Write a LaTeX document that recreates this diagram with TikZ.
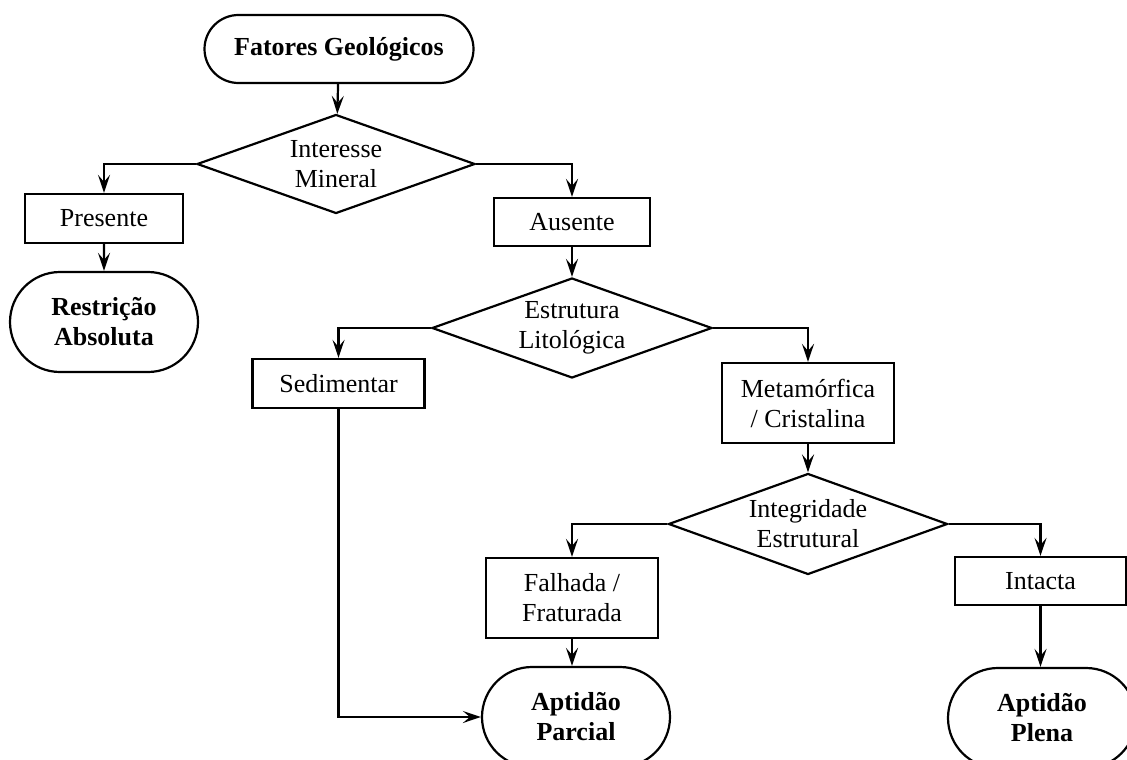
\documentclass[tikz,border=0pt]{standalone}
\usepackage{fontspec}
\setmainfont{Liberation Serif}
\usetikzlibrary{shapes.geometric,shapes.misc,arrows.meta}

\begin{document}
\begin{tikzpicture}[x=1pt,y=-1pt,
  every node/.style={font=\fontsize{26}{30}\selectfont, align=center, inner sep=0pt, line width=2.2pt},
  term/.style={draw, rounded rectangle, font=\fontsize{26}{30}\selectfont\bfseries},
  proc/.style={draw, rectangle},
  dec/.style={draw, diamond, shape aspect=2.8},
  conn/.style={line width=2.2pt, -{Stealth[length=18pt,width=12pt,inset=7pt]}}
]
\useasboundingbox (0,0) rectangle (1127,760);

% terminals, decisions and boxes
\node[term, minimum width=269, minimum height=68] (fat) at (339,49) {Fatores Geológicos};
\node[dec, minimum width=278, minimum height=99] (d1) at (336,164) {Interesse\\Mineral};
\node[proc, minimum width=158, minimum height=49] (pres) at (104,218.5) {Presente};
\node[term, minimum width=188, minimum height=100] (rest) at (104,322) {Restrição\\Absoluta};
\node[proc, minimum width=156, minimum height=48] (aus) at (572,222) {Ausente};
\node[dec, minimum width=280, minimum height=100] (d2) at (572,328) {Estrutura\\Litológica};
\node[proc, minimum width=172, minimum height=49] (sed) at (338.5,383.5) {Sedimentar};
\node[proc, minimum width=172, minimum height=80] (meta) at (808,403) {Metamórfica\\/ Cristalina};
\node[dec, minimum width=279, minimum height=101] (d3) at (808,524) {Integridade\\Estrutural};
\node[proc, minimum width=172, minimum height=80] (fal) at (572,598) {Falhada /\\Fraturada};
\node[proc, minimum width=171, minimum height=48] (int) at (1040.5,581) {Intacta};
\node[term, minimum width=188, minimum height=100] (apar) at (576,717) {Aptidão\\Parcial};
\node[term, minimum width=188, minimum height=100] (aple) at (1042,718) {Aptidão\\Plena};

% connectors
\draw[conn] (fat) -- (d1);
\draw[conn] (d1.west) -| (pres.north);
\draw[conn] (pres) -- (rest);
\draw[conn] (d1.east) -| (aus.north);
\draw[conn] (aus) -- (d2);
\draw[conn] (d2.west) -| (sed.north);
\draw[conn] (d2.east) -| (meta.north);
\draw[conn] (meta) -- (d3);
\draw[conn] (d3.west) -| (fal.north);
\draw[conn] (d3.east) -| (int.north);
\draw[conn] (fal.south) -- (fal.south |- apar.north);
\draw[conn] (int.south) -- (int.south |- aple.north);
\draw[conn] (sed.south) |- (apar.west);
\end{tikzpicture}
\end{document}
